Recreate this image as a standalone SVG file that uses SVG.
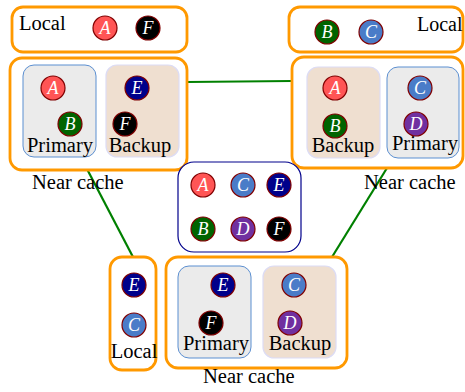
<svg xmlns="http://www.w3.org/2000/svg" width="465" height="392" viewBox="0 0 465 392">
<style>
.grp{fill:#fff;stroke:#ff9900;stroke-width:2.8}
.pri{fill:#ebebeb;stroke:#5b8fd1;stroke-width:1}
.bak{fill:#efdfd0;stroke:#dcdcf5;stroke-width:1.2}
.ctr{fill:#fff;stroke:#00008b;stroke-width:1.2}
.lbl{font-family:"Liberation Serif",serif;font-size:20.5px;fill:#000}
.c{stroke:#800000;stroke-width:1.2}
.l{font-family:"Liberation Serif",serif;font-style:italic;font-size:18px;fill:#fff;text-anchor:middle}
.a{fill:#ff5555}.b{fill:#006400}.cc{fill:#4a7cc8}.d{fill:#7030a0}.e{fill:#00008b}.f{fill:#000}
.conn{stroke:#008000;stroke-width:2.2;fill:none}
</style>
<defs>
<g id="nA"><circle r="12" class="c a"/><text y="6" class="l">A</text></g>
<g id="nB"><circle r="12" class="c b"/><text y="6" class="l">B</text></g>
<g id="nC"><circle r="12" class="c cc"/><text y="6" class="l">C</text></g>
<g id="nD"><circle r="12" class="c d"/><text y="6" class="l">D</text></g>
<g id="nE"><circle r="12" class="c e"/><text y="6" class="l">E</text></g>
<g id="nF"><circle r="12" class="c f"/><text y="6" class="l">F</text></g>
</defs>
<g id="connectors">
<line class="conn" x1="187" y1="82" x2="292" y2="81"/>
<line class="conn" x1="87" y1="169" x2="133" y2="257"/>
<line class="conn" x1="387" y1="168" x2="332" y2="257"/>
</g>
<g id="local-left">
<rect class="grp" x="12" y="7" width="175" height="45" rx="11"/>
<text class="lbl" x="19" y="30">Local</text>
<use href="#nA" x="105" y="28"/>
<use href="#nF" x="148" y="28"/>
</g>
<g id="near-left">
<rect class="grp" x="10" y="58" width="177" height="112" rx="12"/>
<rect class="pri" x="23" y="65" width="73" height="92" rx="11"/>
<rect class="bak" x="106" y="65" width="73" height="92" rx="11"/>
<use href="#nA" x="53" y="88"/>
<use href="#nB" x="70" y="124"/>
<use href="#nE" x="137" y="88"/>
<use href="#nF" x="125" y="124"/>
<text class="lbl" x="60" y="152" text-anchor="middle">Primary</text>
<text class="lbl" x="140" y="152" text-anchor="middle">Backup</text>
<text class="lbl" x="32" y="189">Near cache</text>
</g>
<g id="local-right">
<rect class="grp" x="289" y="7" width="174" height="45" rx="11"/>
<use href="#nB" x="327" y="32"/>
<use href="#nC" x="371" y="32"/>
<text class="lbl" x="417" y="31" style="font-size:20px">Local</text>
</g>
<g id="near-right">
<rect class="grp" x="292" y="57" width="171" height="111" rx="12"/>
<rect class="bak" x="307" y="67" width="73" height="91" rx="11"/>
<rect class="pri" x="387" y="67" width="72" height="91" rx="11"/>
<use href="#nA" x="335" y="88"/>
<use href="#nB" x="335" y="126"/>
<use href="#nC" x="420" y="88"/>
<use href="#nD" x="416" y="124"/>
<text class="lbl" x="343" y="152" text-anchor="middle">Backup</text>
<text class="lbl" x="425" y="150" text-anchor="middle">Primary</text>
<text class="lbl" x="364" y="189">Near cache</text>
</g>
<g id="center">
<rect class="ctr" x="178" y="162" width="123" height="90" rx="16"/>
<use href="#nA" x="203" y="185"/>
<use href="#nC" x="243" y="185"/>
<use href="#nE" x="279" y="185"/>
<use href="#nB" x="203" y="229"/>
<use href="#nD" x="243" y="229"/>
<use href="#nF" x="279" y="229"/>
</g>
<g id="local-bottom">
<rect class="grp" x="110" y="257" width="46" height="113" rx="12"/>
<use href="#nE" x="134" y="285"/>
<use href="#nC" x="134" y="325"/>
<text class="lbl" x="134" y="358" text-anchor="middle">Local</text>
</g>
<g id="near-bottom">
<rect class="grp" x="166" y="257" width="181" height="111" rx="12"/>
<rect class="pri" x="178" y="266" width="73" height="92" rx="11"/>
<rect class="bak" x="263" y="266" width="73" height="92" rx="11"/>
<use href="#nE" x="223" y="285"/>
<use href="#nF" x="211" y="323"/>
<use href="#nC" x="294" y="285"/>
<use href="#nD" x="290" y="323"/>
<text class="lbl" x="216" y="350" text-anchor="middle">Primary</text>
<text class="lbl" x="300" y="350" text-anchor="middle">Backup</text>
<text class="lbl" x="203" y="383">Near cache</text>
</g>
</svg>
